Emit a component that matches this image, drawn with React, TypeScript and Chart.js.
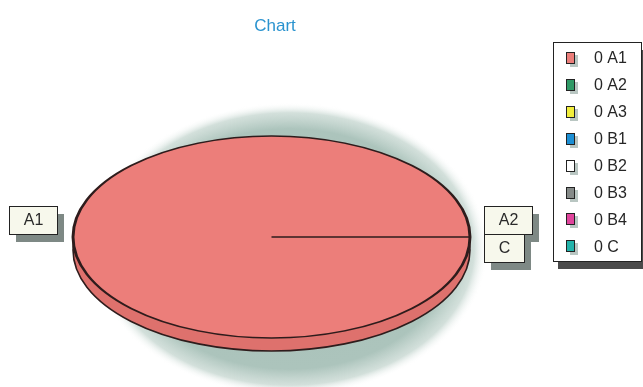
import React, { useEffect, useRef } from "react";
import { Chart, registerables } from "chart.js";

Chart.register(...registerables);

// ---- data ----
const chartTitle = "Chart";
const categories = ["A1", "A2", "A3", "B1", "B2", "B3", "B4", "C"];
const values = [1, 0, 0, 0, 0, 0, 0, 0];
const legendValues = ["0", "0", "0", "0", "0", "0", "0", "0"];
const sliceColors = ["#ec7e7a", "#2f9a66", "#f2ee3c", "#1c8fd4", "#ffffff", "#858a88", "#e0449c", "#22b3aa"];
const labelledCategories = ["A1", "A2", "C"];

// ---- styling ----
const FONT = '"Liberation Sans", Arial, Helvetica, sans-serif';
const PIE_RY = 101;
const SCALE_X = 198.5 / 101;
const DEPTH = 13;

const pie3d = {
  id: "pie3d",
  beforeDatasetsDraw(chart: any) {
    const meta = chart.getDatasetMeta(0);
    const arc = meta.data[0];
    if (!arc) return;
    const cx = arc.x, cy = arc.y, r = arc.outerRadius;
    const rx = r * SCALE_X;
    const ctx = chart.ctx as CanvasRenderingContext2D;
    // glow halo (soft shadow, shifted right/down)
    const gR = r * 1.45;
    const gRx = rx * 1.0;
    ctx.save();
    ctx.translate(cx + 18, cy + 12);
    ctx.scale(gRx / gR, 1);
    const g = ctx.createRadialGradient(0, 0, 0, 0, 0, gR);
    g.addColorStop(0, "rgba(168,192,184,1)");
    g.addColorStop(0.82, "rgba(172,196,188,1)");
    g.addColorStop(0.93, "rgba(200,216,210,0.8)");
    g.addColorStop(1, "rgba(255,255,255,0)");
    ctx.fillStyle = g;
    ctx.beginPath();
    ctx.arc(0, 0, gR, 0, Math.PI * 2);
    ctx.fill();
    ctx.restore();
    // side (depth)
    ctx.save();
    ctx.beginPath();
    ctx.ellipse(cx, cy + DEPTH, rx, r, 0, 0, Math.PI * 2);
    ctx.fillStyle = "#de716d";
    ctx.fill();
    ctx.lineWidth = 1.6;
    ctx.strokeStyle = "#2e1c1c";
    ctx.stroke();
    ctx.restore();
    // squash the pie into an ellipse
    ctx.save();
    ctx.translate(cx, cy);
    ctx.scale(SCALE_X, 1);
    ctx.translate(-cx, -cy);
  },
  afterDatasetsDraw(chart: any) {
    chart.ctx.restore();
  },
  afterDraw(chart: any) {
    const ctx = chart.ctx as CanvasRenderingContext2D;
    const meta = chart.getDatasetMeta(0);
    const first = meta.data[0];
    const cx = first.x, cy = first.y, r = first.outerRadius;
    const rx = r * SCALE_X;

    // title
    ctx.save();
    ctx.font = `17px ${FONT}`;
    ctx.fillStyle = "#2a93cf";
    ctx.textAlign = "center";
    ctx.textBaseline = "middle";
    ctx.fillText(chartTitle, 275, 26);
    ctx.restore();

    // data labels
    const placed: { side: number; top: number; bottom: number }[] = [];
    ctx.save();
    ctx.font = `16px ${FONT}`;
    for (const name of labelledCategories) {
      const i = categories.indexOf(name);
      const arc = meta.data[i];
      if (!arc) continue;
      const mid = (arc.startAngle + arc.endAngle) / 2;
      const px = cx + rx * Math.cos(mid);
      const py = cy + r * Math.sin(mid);
      const side = Math.cos(mid) < 0 ? -1 : 1;
      const tw = ctx.measureText(name).width;
      const w = Math.round(tw + 28);
      const h = 28;
      let top = Math.round(py - 31);
      for (const p of placed) {
        if (p.side === side && top < p.bottom && top + h > p.top) top = p.bottom;
      }
      const left = side < 0 ? Math.round(px - 16 - w) : Math.round(px + 14);
      placed.push({ side, top, bottom: top + h });
      ctx.fillStyle = "#7e8985";
      ctx.fillRect(left + 7, top + 8, w, h);
      ctx.fillStyle = "#f7f8ec";
      ctx.fillRect(left, top, w, h);
      ctx.strokeStyle = "#222";
      ctx.lineWidth = 1;
      ctx.strokeRect(left + 0.5, top + 0.5, w, h);
      ctx.fillStyle = "#2a2a2a";
      ctx.textAlign = "center";
      ctx.textBaseline = "middle";
      ctx.fillText(name, left + w / 2 + 0.5, top + h / 2 + 1);
    }
    ctx.restore();

    // legend
    ctx.save();
    const lx = 553, ly = 42, lw = 88, lh = 219;
    ctx.fillStyle = "#4a4a4a";
    ctx.fillRect(lx + 5, ly + 8, lw, lh);
    ctx.fillStyle = "#ffffff";
    ctx.fillRect(lx, ly, lw, lh);
    ctx.strokeStyle = "#222";
    ctx.lineWidth = 1;
    ctx.strokeRect(lx + 0.5, ly + 0.5, lw, lh);
    ctx.font = `16px ${FONT}`;
    ctx.textAlign = "left";
    ctx.textBaseline = "middle";
    categories.forEach((name, i) => {
      const yc = 58 + i * 26.9;
      const sx = 566, sy = Math.round(yc - 6);
      ctx.fillStyle = "#b9c6c2";
      ctx.fillRect(sx + 4, sy + 3, 8, 12);
      ctx.fillStyle = sliceColors[i];
      ctx.fillRect(sx, sy, 8, 11);
      ctx.strokeStyle = "#222";
      ctx.strokeRect(sx + 0.5, sy + 0.5, 8, 11);
      ctx.fillStyle = "#262626";
      ctx.fillText(`${legendValues[i]} ${name}`, 594, yc + 1);
    });
    ctx.restore();
  },
};

export default function App() {
  const canvasRef = useRef<HTMLCanvasElement | null>(null);
  useEffect(() => {
    if (!canvasRef.current) return;
    const chart = new Chart(canvasRef.current, {
      type: "pie",
      data: {
        labels: categories,
        datasets: [
          {
            data: values,
            backgroundColor: sliceColors,
            borderColor: "#2e1c1c",
            borderWidth: 1.5,
            hoverOffset: 0,
            offset: 0,
          },
        ],
      },
      options: {
        animation: false,
        responsive: false,
        events: [],
        rotation: 90,
        radius: PIE_RY,
        layout: { padding: { left: 150, right: 250, top: 120, bottom: 33 } },
        plugins: {
          legend: { display: false },
          title: { display: false },
          tooltip: { enabled: false },
        },
      } as any,
      plugins: [pie3d],
    });
    return () => chart.destroy();
  }, []);
  return (
    <div style={{ position: "fixed", left: 0, top: 0, width: 643, height: 387, background: "#fff" }}>
      <canvas ref={canvasRef} width={643} height={387} />
    </div>
  );
}
